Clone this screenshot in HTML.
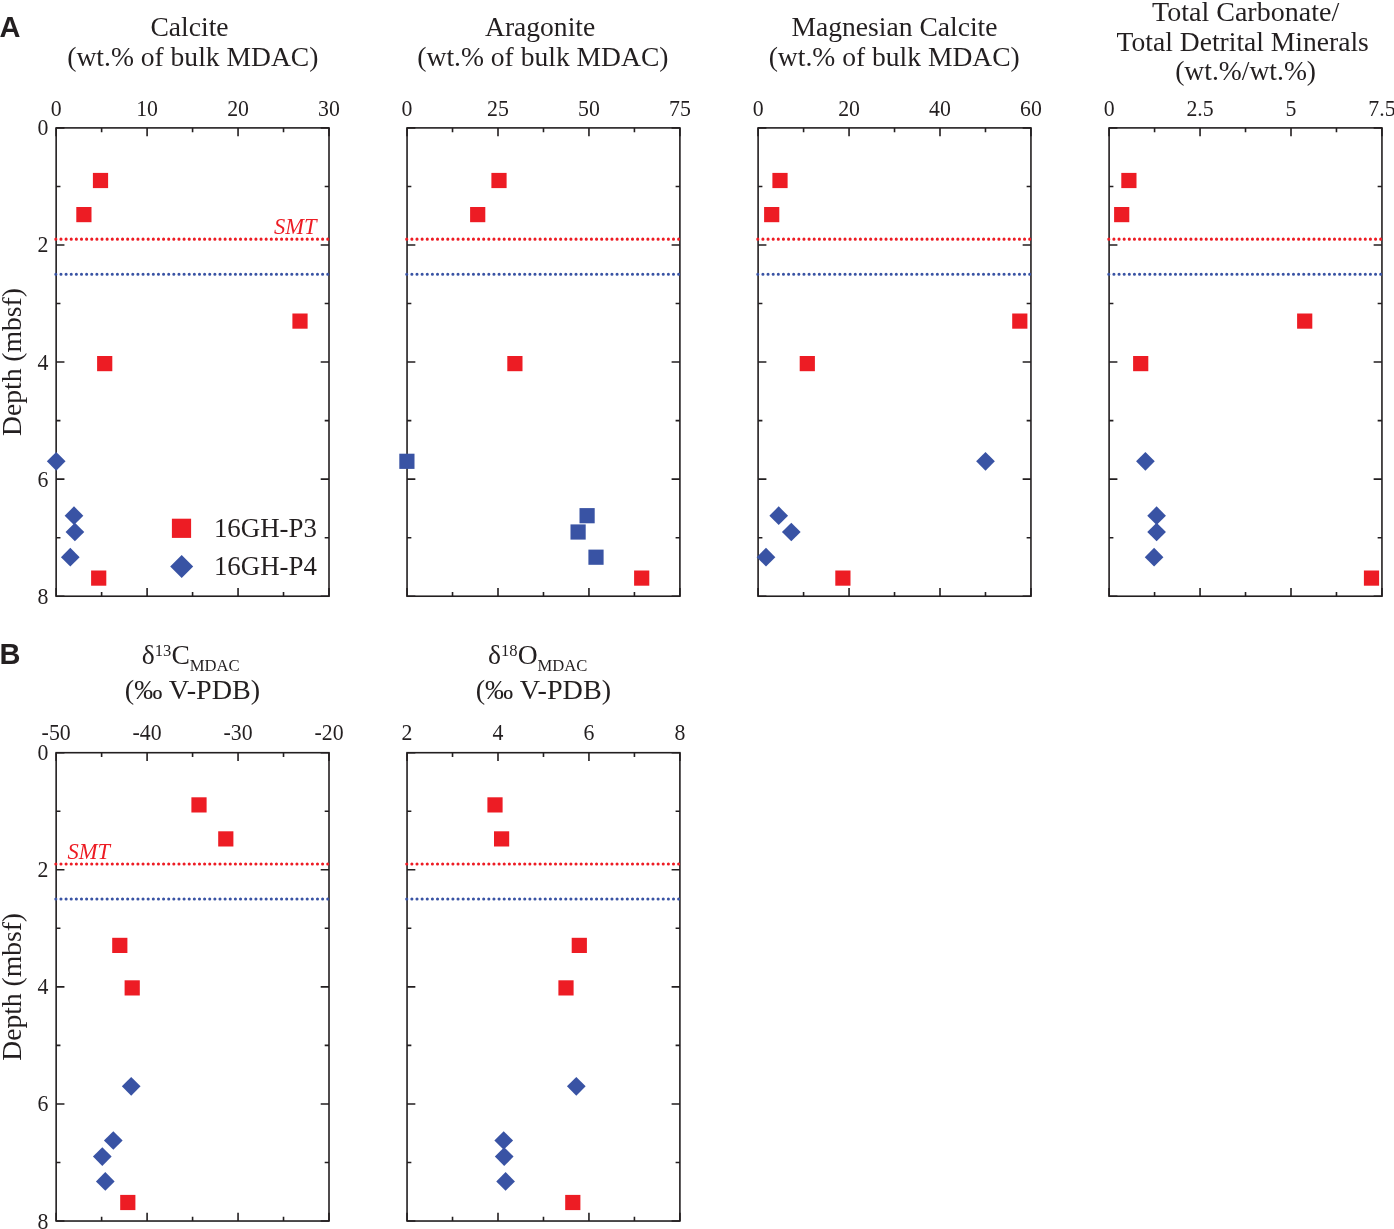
<!DOCTYPE html>
<html><head><meta charset="utf-8"><title>MDAC</title>
<style>html,body{margin:0;padding:0;background:#fff}svg{display:block;will-change:transform}text{font-family:"Liberation Serif",serif;fill:#231f20}.tk{font-size:23.2px}.tt{font-size:28.2px}.sm{font-size:17px}.smt{font-size:22.5px;font-style:italic;fill:#ed1c24}.pl{font-family:"Liberation Sans",sans-serif;font-weight:bold;font-size:29px}</style></head><body>
<svg width="1394" height="1229" viewBox="0 0 1394 1229">
<rect width="1394" height="1229" fill="#fff"/>
<text transform="translate(-0.50 36.60)" class="pl">A</text>
<text transform="translate(-0.50 664.20)" class="pl">B</text>
<rect x="56.15" y="127.90" width="272.85" height="468.32" fill="none" stroke="#231f20" stroke-width="1.6"/>
<path d="M56.15 127.90v8.3M56.15 596.22v-8.3M101.62 127.90v4.3M101.62 596.22v-4.3M147.10 127.90v8.3M147.10 596.22v-8.3M192.58 127.90v4.3M192.58 596.22v-4.3M238.05 127.90v8.3M238.05 596.22v-8.3M283.52 127.90v4.3M283.52 596.22v-4.3M329.00 127.90v8.3M329.00 596.22v-8.3M56.15 127.90h8.3M329.00 127.90h-8.3M56.15 186.44h4.3M329.00 186.44h-4.3M56.15 244.98h8.3M329.00 244.98h-8.3M56.15 303.52h4.3M329.00 303.52h-4.3M56.15 362.06h8.3M329.00 362.06h-8.3M56.15 420.60h4.3M329.00 420.60h-4.3M56.15 479.14h8.3M329.00 479.14h-8.3M56.15 537.68h4.3M329.00 537.68h-4.3M56.15 596.22h8.3M329.00 596.22h-8.3" stroke="#231f20" stroke-width="1.6" fill="none"/>
<line x1="55.85" y1="239.13" x2="330.00" y2="239.13" stroke="#ed1c24" stroke-width="3.1" stroke-linecap="round" stroke-dasharray="0 5.13"/>
<line x1="55.85" y1="274.25" x2="330.00" y2="274.25" stroke="#3953a4" stroke-width="3.1" stroke-linecap="round" stroke-dasharray="0 5.13"/>
<text transform="translate(56.15 115.60) scale(0.94 1)" class="tk" text-anchor="middle">0</text>
<text transform="translate(147.10 115.60) scale(0.94 1)" class="tk" text-anchor="middle">10</text>
<text transform="translate(238.05 115.60) scale(0.94 1)" class="tk" text-anchor="middle">20</text>
<text transform="translate(329.00 115.60) scale(0.94 1)" class="tk" text-anchor="middle">30</text>
<text transform="translate(48.35 135.40) scale(0.94 1)" class="tk" text-anchor="end">0</text>
<text transform="translate(48.35 252.48) scale(0.94 1)" class="tk" text-anchor="end">2</text>
<text transform="translate(48.35 369.56) scale(0.94 1)" class="tk" text-anchor="end">4</text>
<text transform="translate(48.35 486.64) scale(0.94 1)" class="tk" text-anchor="end">6</text>
<text transform="translate(48.35 603.72) scale(0.94 1)" class="tk" text-anchor="end">8</text>
<text transform="translate(20.80 362.06) rotate(-90) scale(0.978 1)" class="tt" text-anchor="middle">Depth (mbsf)</text>
<text transform="translate(189.50 36.40) scale(0.978 1)" class="tt" text-anchor="middle">Calcite</text>
<text transform="translate(192.80 65.80) scale(0.978 1)" class="tt" text-anchor="middle">(wt.% of bulk MDAC)</text>
<text transform="translate(316.60 234.40)" class="smt" text-anchor="end">SMT</text>
<rect x="92.90" y="172.90" width="15.2" height="15.2" fill="#ed1c24"/>
<rect x="76.30" y="207.00" width="15.2" height="15.2" fill="#ed1c24"/>
<rect x="292.40" y="313.50" width="15.2" height="15.2" fill="#ed1c24"/>
<rect x="97.10" y="356.00" width="15.2" height="15.2" fill="#ed1c24"/>
<rect x="91.10" y="570.50" width="15.2" height="15.2" fill="#ed1c24"/>
<path d="M56.20 451.95L65.55 461.30L56.20 470.65L46.85 461.30Z" fill="#3953a4"/>
<path d="M74.00 506.35L83.35 515.70L74.00 525.05L64.65 515.70Z" fill="#3953a4"/>
<path d="M74.90 522.65L84.25 532.00L74.90 541.35L65.55 532.00Z" fill="#3953a4"/>
<path d="M70.30 547.85L79.65 557.20L70.30 566.55L60.95 557.20Z" fill="#3953a4"/>
<rect x="171.90" y="518.70" width="19.2" height="19.2" fill="#ed1c24"/>
<path d="M181.70 555.00L193.20 566.50L181.70 578.00L170.20 566.50Z" fill="#3953a4"/>
<text transform="translate(213.90 537.40) scale(0.953 1)" class="tt">16GH-P3</text>
<text transform="translate(213.90 575.40) scale(0.953 1)" class="tt">16GH-P4</text>
<rect x="407.05" y="127.90" width="272.85" height="468.32" fill="none" stroke="#231f20" stroke-width="1.6"/>
<path d="M407.05 127.90v8.3M407.05 596.22v-8.3M452.53 127.90v4.3M452.53 596.22v-4.3M498.00 127.90v8.3M498.00 596.22v-8.3M543.48 127.90v4.3M543.48 596.22v-4.3M588.95 127.90v8.3M588.95 596.22v-8.3M634.43 127.90v4.3M634.43 596.22v-4.3M679.90 127.90v8.3M679.90 596.22v-8.3M407.05 127.90h8.3M679.90 127.90h-8.3M407.05 186.44h4.3M679.90 186.44h-4.3M407.05 244.98h8.3M679.90 244.98h-8.3M407.05 303.52h4.3M679.90 303.52h-4.3M407.05 362.06h8.3M679.90 362.06h-8.3M407.05 420.60h4.3M679.90 420.60h-4.3M407.05 479.14h8.3M679.90 479.14h-8.3M407.05 537.68h4.3M679.90 537.68h-4.3M407.05 596.22h8.3M679.90 596.22h-8.3" stroke="#231f20" stroke-width="1.6" fill="none"/>
<line x1="406.75" y1="239.13" x2="680.90" y2="239.13" stroke="#ed1c24" stroke-width="3.1" stroke-linecap="round" stroke-dasharray="0 5.13"/>
<line x1="406.75" y1="274.25" x2="680.90" y2="274.25" stroke="#3953a4" stroke-width="3.1" stroke-linecap="round" stroke-dasharray="0 5.13"/>
<text transform="translate(407.05 115.60) scale(0.94 1)" class="tk" text-anchor="middle">0</text>
<text transform="translate(498.00 115.60) scale(0.94 1)" class="tk" text-anchor="middle">25</text>
<text transform="translate(588.95 115.60) scale(0.94 1)" class="tk" text-anchor="middle">50</text>
<text transform="translate(679.90 115.60) scale(0.94 1)" class="tk" text-anchor="middle">75</text>
<text transform="translate(540.10 36.40) scale(0.978 1)" class="tt" text-anchor="middle">Aragonite</text>
<text transform="translate(542.90 65.80) scale(0.978 1)" class="tt" text-anchor="middle">(wt.% of bulk MDAC)</text>
<rect x="491.40" y="172.90" width="15.2" height="15.2" fill="#ed1c24"/>
<rect x="470.10" y="207.00" width="15.2" height="15.2" fill="#ed1c24"/>
<rect x="507.30" y="356.00" width="15.2" height="15.2" fill="#ed1c24"/>
<rect x="634.10" y="570.50" width="15.2" height="15.2" fill="#ed1c24"/>
<rect x="399.30" y="453.70" width="15.2" height="15.2" fill="#3953a4"/>
<rect x="579.50" y="508.10" width="15.2" height="15.2" fill="#3953a4"/>
<rect x="570.50" y="524.40" width="15.2" height="15.2" fill="#3953a4"/>
<rect x="588.40" y="549.60" width="15.2" height="15.2" fill="#3953a4"/>
<rect x="758.10" y="127.90" width="272.85" height="468.32" fill="none" stroke="#231f20" stroke-width="1.6"/>
<path d="M758.10 127.90v8.3M758.10 596.22v-8.3M803.58 127.90v4.3M803.58 596.22v-4.3M849.05 127.90v8.3M849.05 596.22v-8.3M894.53 127.90v4.3M894.53 596.22v-4.3M940.00 127.90v8.3M940.00 596.22v-8.3M985.48 127.90v4.3M985.48 596.22v-4.3M1030.95 127.90v8.3M1030.95 596.22v-8.3M758.10 127.90h8.3M1030.95 127.90h-8.3M758.10 186.44h4.3M1030.95 186.44h-4.3M758.10 244.98h8.3M1030.95 244.98h-8.3M758.10 303.52h4.3M1030.95 303.52h-4.3M758.10 362.06h8.3M1030.95 362.06h-8.3M758.10 420.60h4.3M1030.95 420.60h-4.3M758.10 479.14h8.3M1030.95 479.14h-8.3M758.10 537.68h4.3M1030.95 537.68h-4.3M758.10 596.22h8.3M1030.95 596.22h-8.3" stroke="#231f20" stroke-width="1.6" fill="none"/>
<line x1="757.80" y1="239.13" x2="1031.95" y2="239.13" stroke="#ed1c24" stroke-width="3.1" stroke-linecap="round" stroke-dasharray="0 5.13"/>
<line x1="757.80" y1="274.25" x2="1031.95" y2="274.25" stroke="#3953a4" stroke-width="3.1" stroke-linecap="round" stroke-dasharray="0 5.13"/>
<text transform="translate(758.10 115.60) scale(0.94 1)" class="tk" text-anchor="middle">0</text>
<text transform="translate(849.05 115.60) scale(0.94 1)" class="tk" text-anchor="middle">20</text>
<text transform="translate(940.00 115.60) scale(0.94 1)" class="tk" text-anchor="middle">40</text>
<text transform="translate(1030.95 115.60) scale(0.94 1)" class="tk" text-anchor="middle">60</text>
<text transform="translate(894.50 36.40) scale(0.978 1)" class="tt" text-anchor="middle">Magnesian Calcite</text>
<text transform="translate(894.20 65.80) scale(0.978 1)" class="tt" text-anchor="middle">(wt.% of bulk MDAC)</text>
<rect x="772.40" y="172.90" width="15.2" height="15.2" fill="#ed1c24"/>
<rect x="764.10" y="207.00" width="15.2" height="15.2" fill="#ed1c24"/>
<rect x="1012.20" y="313.50" width="15.2" height="15.2" fill="#ed1c24"/>
<rect x="799.70" y="356.00" width="15.2" height="15.2" fill="#ed1c24"/>
<rect x="835.30" y="570.50" width="15.2" height="15.2" fill="#ed1c24"/>
<path d="M985.50 451.95L994.85 461.30L985.50 470.65L976.15 461.30Z" fill="#3953a4"/>
<path d="M778.70 506.35L788.05 515.70L778.70 525.05L769.35 515.70Z" fill="#3953a4"/>
<path d="M791.30 522.65L800.65 532.00L791.30 541.35L781.95 532.00Z" fill="#3953a4"/>
<path d="M766.00 547.85L775.35 557.20L766.00 566.55L756.65 557.20Z" fill="#3953a4"/>
<rect x="1109.10" y="127.90" width="272.85" height="468.32" fill="none" stroke="#231f20" stroke-width="1.6"/>
<path d="M1109.10 127.90v8.3M1109.10 596.22v-8.3M1154.57 127.90v4.3M1154.57 596.22v-4.3M1200.05 127.90v8.3M1200.05 596.22v-8.3M1245.52 127.90v4.3M1245.52 596.22v-4.3M1291.00 127.90v8.3M1291.00 596.22v-8.3M1336.47 127.90v4.3M1336.47 596.22v-4.3M1381.95 127.90v8.3M1381.95 596.22v-8.3M1109.10 127.90h8.3M1381.95 127.90h-8.3M1109.10 186.44h4.3M1381.95 186.44h-4.3M1109.10 244.98h8.3M1381.95 244.98h-8.3M1109.10 303.52h4.3M1381.95 303.52h-4.3M1109.10 362.06h8.3M1381.95 362.06h-8.3M1109.10 420.60h4.3M1381.95 420.60h-4.3M1109.10 479.14h8.3M1381.95 479.14h-8.3M1109.10 537.68h4.3M1381.95 537.68h-4.3M1109.10 596.22h8.3M1381.95 596.22h-8.3" stroke="#231f20" stroke-width="1.6" fill="none"/>
<line x1="1108.80" y1="239.13" x2="1382.95" y2="239.13" stroke="#ed1c24" stroke-width="3.1" stroke-linecap="round" stroke-dasharray="0 5.13"/>
<line x1="1108.80" y1="274.25" x2="1382.95" y2="274.25" stroke="#3953a4" stroke-width="3.1" stroke-linecap="round" stroke-dasharray="0 5.13"/>
<text transform="translate(1109.10 115.60) scale(0.94 1)" class="tk" text-anchor="middle">0</text>
<text transform="translate(1200.05 115.60) scale(0.94 1)" class="tk" text-anchor="middle">2.5</text>
<text transform="translate(1291.00 115.60) scale(0.94 1)" class="tk" text-anchor="middle">5</text>
<text transform="translate(1381.95 115.60) scale(0.94 1)" class="tk" text-anchor="middle">7.5</text>
<text transform="translate(1245.60 20.60) scale(0.995 1)" class="tt" text-anchor="middle">Total Carbonate/</text>
<text transform="translate(1242.70 50.80) scale(0.978 1)" class="tt" text-anchor="middle">Total Detrital Minerals</text>
<text transform="translate(1245.60 80.30) scale(0.978 1)" class="tt" text-anchor="middle">(wt.%/wt.%)</text>
<rect x="1121.30" y="172.90" width="15.2" height="15.2" fill="#ed1c24"/>
<rect x="1114.10" y="207.00" width="15.2" height="15.2" fill="#ed1c24"/>
<rect x="1297.10" y="313.50" width="15.2" height="15.2" fill="#ed1c24"/>
<rect x="1133.10" y="356.00" width="15.2" height="15.2" fill="#ed1c24"/>
<rect x="1363.90" y="570.50" width="15.2" height="15.2" fill="#ed1c24"/>
<path d="M1145.40 451.95L1154.75 461.30L1145.40 470.65L1136.05 461.30Z" fill="#3953a4"/>
<path d="M1156.60 506.35L1165.95 515.70L1156.60 525.05L1147.25 515.70Z" fill="#3953a4"/>
<path d="M1156.60 522.65L1165.95 532.00L1156.60 541.35L1147.25 532.00Z" fill="#3953a4"/>
<path d="M1154.10 547.85L1163.45 557.20L1154.10 566.55L1144.75 557.20Z" fill="#3953a4"/>
<rect x="56.15" y="752.70" width="272.85" height="468.32" fill="none" stroke="#231f20" stroke-width="1.6"/>
<path d="M56.15 752.70v8.3M56.15 1221.02v-8.3M101.62 752.70v4.3M101.62 1221.02v-4.3M147.10 752.70v8.3M147.10 1221.02v-8.3M192.58 752.70v4.3M192.58 1221.02v-4.3M238.05 752.70v8.3M238.05 1221.02v-8.3M283.52 752.70v4.3M283.52 1221.02v-4.3M329.00 752.70v8.3M329.00 1221.02v-8.3M56.15 752.70h8.3M329.00 752.70h-8.3M56.15 811.24h4.3M329.00 811.24h-4.3M56.15 869.78h8.3M329.00 869.78h-8.3M56.15 928.32h4.3M329.00 928.32h-4.3M56.15 986.86h8.3M329.00 986.86h-8.3M56.15 1045.40h4.3M329.00 1045.40h-4.3M56.15 1103.94h8.3M329.00 1103.94h-8.3M56.15 1162.48h4.3M329.00 1162.48h-4.3M56.15 1221.02h8.3M329.00 1221.02h-8.3" stroke="#231f20" stroke-width="1.6" fill="none"/>
<line x1="55.85" y1="863.93" x2="330.00" y2="863.93" stroke="#ed1c24" stroke-width="3.1" stroke-linecap="round" stroke-dasharray="0 5.13"/>
<line x1="55.85" y1="899.05" x2="330.00" y2="899.05" stroke="#3953a4" stroke-width="3.1" stroke-linecap="round" stroke-dasharray="0 5.13"/>
<text transform="translate(56.15 740.40) scale(0.94 1)" class="tk" text-anchor="middle">-50</text>
<text transform="translate(147.10 740.40) scale(0.94 1)" class="tk" text-anchor="middle">-40</text>
<text transform="translate(238.05 740.40) scale(0.94 1)" class="tk" text-anchor="middle">-30</text>
<text transform="translate(329.00 740.40) scale(0.94 1)" class="tk" text-anchor="middle">-20</text>
<text transform="translate(48.35 760.20) scale(0.94 1)" class="tk" text-anchor="end">0</text>
<text transform="translate(48.35 877.28) scale(0.94 1)" class="tk" text-anchor="end">2</text>
<text transform="translate(48.35 994.36) scale(0.94 1)" class="tk" text-anchor="end">4</text>
<text transform="translate(48.35 1111.44) scale(0.94 1)" class="tk" text-anchor="end">6</text>
<text transform="translate(48.35 1228.52) scale(0.94 1)" class="tk" text-anchor="end">8</text>
<text transform="translate(20.80 986.86) rotate(-90) scale(0.978 1)" class="tt" text-anchor="middle">Depth (mbsf)</text>
<text transform="translate(190.70 664.40) scale(0.978 1)" class="tt" text-anchor="middle">δ<tspan class="sm" dy="-8.6">13</tspan><tspan dy="8.6">C</tspan><tspan class="sm" dy="6.3">MDAC</tspan></text>
<text transform="translate(192.50 698.60)" class="tt" text-anchor="middle">(‰ V-PDB)</text>
<text transform="translate(67.40 858.80)" class="smt">SMT</text>
<rect x="191.40" y="797.30" width="15.2" height="15.2" fill="#ed1c24"/>
<rect x="218.20" y="831.30" width="15.2" height="15.2" fill="#ed1c24"/>
<rect x="112.20" y="937.80" width="15.2" height="15.2" fill="#ed1c24"/>
<rect x="124.60" y="980.30" width="15.2" height="15.2" fill="#ed1c24"/>
<rect x="120.20" y="1194.90" width="15.2" height="15.2" fill="#ed1c24"/>
<path d="M131.20 1076.95L140.55 1086.30L131.20 1095.65L121.85 1086.30Z" fill="#3953a4"/>
<path d="M113.30 1131.15L122.65 1140.50L113.30 1149.85L103.95 1140.50Z" fill="#3953a4"/>
<path d="M102.30 1147.25L111.65 1156.60L102.30 1165.95L92.95 1156.60Z" fill="#3953a4"/>
<path d="M105.30 1172.05L114.65 1181.40L105.30 1190.75L95.95 1181.40Z" fill="#3953a4"/>
<rect x="407.05" y="752.70" width="272.85" height="468.32" fill="none" stroke="#231f20" stroke-width="1.6"/>
<path d="M407.05 752.70v8.3M407.05 1221.02v-8.3M452.53 752.70v4.3M452.53 1221.02v-4.3M498.00 752.70v8.3M498.00 1221.02v-8.3M543.48 752.70v4.3M543.48 1221.02v-4.3M588.95 752.70v8.3M588.95 1221.02v-8.3M634.43 752.70v4.3M634.43 1221.02v-4.3M679.90 752.70v8.3M679.90 1221.02v-8.3M407.05 752.70h8.3M679.90 752.70h-8.3M407.05 811.24h4.3M679.90 811.24h-4.3M407.05 869.78h8.3M679.90 869.78h-8.3M407.05 928.32h4.3M679.90 928.32h-4.3M407.05 986.86h8.3M679.90 986.86h-8.3M407.05 1045.40h4.3M679.90 1045.40h-4.3M407.05 1103.94h8.3M679.90 1103.94h-8.3M407.05 1162.48h4.3M679.90 1162.48h-4.3M407.05 1221.02h8.3M679.90 1221.02h-8.3" stroke="#231f20" stroke-width="1.6" fill="none"/>
<line x1="406.75" y1="863.93" x2="680.90" y2="863.93" stroke="#ed1c24" stroke-width="3.1" stroke-linecap="round" stroke-dasharray="0 5.13"/>
<line x1="406.75" y1="899.05" x2="680.90" y2="899.05" stroke="#3953a4" stroke-width="3.1" stroke-linecap="round" stroke-dasharray="0 5.13"/>
<text transform="translate(407.05 740.40) scale(0.94 1)" class="tk" text-anchor="middle">2</text>
<text transform="translate(498.00 740.40) scale(0.94 1)" class="tk" text-anchor="middle">4</text>
<text transform="translate(588.95 740.40) scale(0.94 1)" class="tk" text-anchor="middle">6</text>
<text transform="translate(679.90 740.40) scale(0.94 1)" class="tk" text-anchor="middle">8</text>
<text transform="translate(537.70 664.40) scale(0.978 1)" class="tt" text-anchor="middle">δ<tspan class="sm" dy="-8.6">18</tspan><tspan dy="8.6">O</tspan><tspan class="sm" dy="6.3">MDAC</tspan></text>
<text transform="translate(543.40 698.60)" class="tt" text-anchor="middle">(‰ V-PDB)</text>
<rect x="487.40" y="797.30" width="15.2" height="15.2" fill="#ed1c24"/>
<rect x="494.00" y="831.30" width="15.2" height="15.2" fill="#ed1c24"/>
<rect x="571.70" y="937.80" width="15.2" height="15.2" fill="#ed1c24"/>
<rect x="558.40" y="980.30" width="15.2" height="15.2" fill="#ed1c24"/>
<rect x="565.20" y="1194.90" width="15.2" height="15.2" fill="#ed1c24"/>
<path d="M576.30 1076.95L585.65 1086.30L576.30 1095.65L566.95 1086.30Z" fill="#3953a4"/>
<path d="M503.70 1131.15L513.05 1140.50L503.70 1149.85L494.35 1140.50Z" fill="#3953a4"/>
<path d="M504.20 1147.25L513.55 1156.60L504.20 1165.95L494.85 1156.60Z" fill="#3953a4"/>
<path d="M505.60 1172.05L514.95 1181.40L505.60 1190.75L496.25 1181.40Z" fill="#3953a4"/>
</svg></body></html>
